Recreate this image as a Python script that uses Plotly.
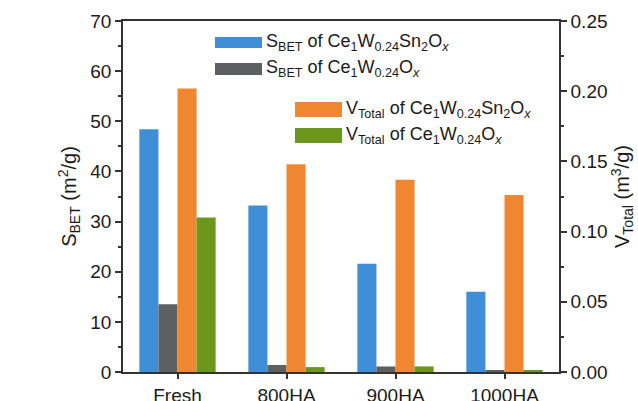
import plotly.graph_objects as go

# Samples and measured texture properties
categories = ["Fresh", "800HA", "900HA", "1000HA"]
sbet_sn = [48.4, 33.2, 21.6, 16.0]        # S_BET of Ce1W0.24Sn2Ox (m2/g)
sbet_nosn = [13.5, 1.4, 1.1, 0.3]         # S_BET of Ce1W0.24Ox (m2/g)
vtot_sn = [0.202, 0.148, 0.137, 0.126]    # V_Total of Ce1W0.24Sn2Ox (m3/g)
vtot_nosn = [0.110, 0.0035, 0.0040, 0.0010]  # V_Total of Ce1W0.24Ox (m3/g)

names = [
    "S<sub>BET</sub> of Ce<sub>1</sub>W<sub>0.24</sub>Sn<sub>2</sub>O<sub><i>x</i></sub>",
    "S<sub>BET</sub> of Ce<sub>1</sub>W<sub>0.24</sub>O<sub><i>x</i></sub>",
    "V<sub>Total</sub> of Ce<sub>1</sub>W<sub>0.24</sub>Sn<sub>2</sub>O<sub><i>x</i></sub>",
    "V<sub>Total</sub> of Ce<sub>1</sub>W<sub>0.24</sub>O<sub><i>x</i></sub>",
]
colors = ["#3f8fd8", "#5e5f61", "#f0862f", "#6b981c"]
series = [sbet_sn, sbet_nosn, vtot_sn, vtot_nosn]
axes = ["y", "y", "y2", "y2"]

W, H = 638, 401
ML, MR, MT, MB = 123, 79, 21, 29
FONT = "Liberation Sans, Arial, sans-serif"
INK = "#1a1a1a"

bw = 0.175
fig = go.Figure()
for i, (vals, name, col, ax) in enumerate(zip(series, names, colors, axes)):
    fig.add_trace(go.Bar(
        x=categories, y=vals, name=name, yaxis=ax,
        width=bw, offset=-2 * bw + i * bw,
        marker=dict(color=col, line=dict(width=0)),
        showlegend=False,
    ))

# Legend drawn as wide swatches with rich-text labels
def px_x(px):
    return (px - ML) / (W - ML - MR)

def px_y(py):
    return 1 - (py - MT) / (H - MT - MB)

legend_rows = [(215, 37, 48), (215, 63, 75), (295, 102, 117), (295, 128, 143)]
shapes = []
annotations = []
for (x0, y0, y1), name, col in zip(legend_rows, names, colors):
    shapes.append(dict(type="rect", xref="paper", yref="paper",
                       x0=px_x(x0), x1=px_x(x0 + 47), y0=px_y(y1), y1=px_y(y0),
                       fillcolor=col, line=dict(width=0), layer="above"))
    annotations.append(dict(xref="paper", yref="paper", x=px_x(x0 + 49),
                            y=px_y((y0 + y1) / 2), text=name, showarrow=False,
                            xanchor="left", yanchor="middle",
                            font=dict(family=FONT, size=18, color=INK)))

axis_line = dict(showline=True, linecolor="#333333", linewidth=1.5)
fig.update_layout(
    width=W, height=H,
    margin=dict(l=ML, r=MR, t=MT, b=MB),
    paper_bgcolor="white", plot_bgcolor="white",
    font=dict(family=FONT, size=19, color=INK),
    barmode="overlay",
    xaxis=dict(range=[-0.5, 3.5], ticks="outside", ticklen=5, tickwidth=1.5,
               tickcolor="#333333", mirror=True, showgrid=False,
               automargin=False, **axis_line),
    yaxis=dict(range=[0, 70], dtick=10, ticks="outside", ticklen=6, tickwidth=1.5,
               tickcolor="#333333", showgrid=False, zeroline=False,
               automargin=False,
               minor=dict(dtick=5, ticks="outside", ticklen=3, tickwidth=1.5,
                          tickcolor="#333333"),
               title=dict(text="S<sub>BET</sub> (m<sup>2</sup>/g)", standoff=8,
                          font=dict(family=FONT, size=20, color=INK)),
               **axis_line),
    yaxis2=dict(range=[0, 0.25], dtick=0.05, tickformat=".2f", overlaying="y",
                side="right", ticks="outside", ticklen=6, tickwidth=1.5,
                tickcolor="#333333", showgrid=False, zeroline=False,
                automargin=False,
                minor=dict(dtick=0.025, ticks="outside", ticklen=3, tickwidth=1.5,
                           tickcolor="#333333"),
                title=dict(text="V<sub>Total</sub> (m<sup>3</sup>/g)", standoff=8,
                           font=dict(family=FONT, size=20, color=INK)),
                **axis_line),
    shapes=shapes,
    annotations=annotations,
)

fig.write_html("out.html")
